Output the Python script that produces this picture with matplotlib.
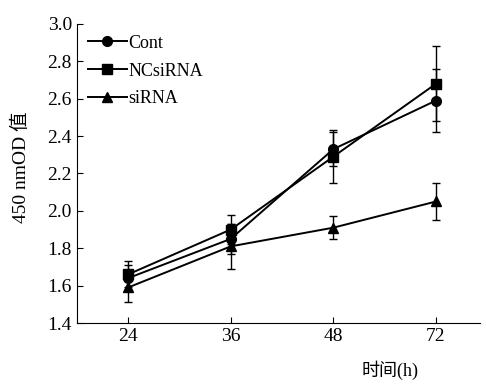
import matplotlib.pyplot as plt
from matplotlib.lines import Line2D
import numpy as np

plt.rcParams['font.family'] = ['Liberation Serif', 'Noto Sans CJK SC']

hours = ["24", "36", "48", "72"]
cont = [1.64, 1.85, 2.33, 2.59]
cont_err = [0.07, 0.08, 0.09, 0.17]
ncsirna = [1.66, 1.90, 2.29, 2.68]
ncsirna_err = [0.07, 0.08, 0.14, 0.20]
sirna = [1.59, 1.81, 1.91, 2.05]
sirna_err = [0.08, 0.12, 0.06, 0.10]

fig = plt.figure(figsize=(4.86, 3.85), dpi=100)
ax = fig.add_axes([0.158, 0.161, 0.83, 0.777])

x = np.arange(len(hours))
style = dict(color="black", lw=1.4, ms=7, capsize=3, elinewidth=1, capthick=1)
ax.errorbar(x, cont, yerr=cont_err, marker="o", **style)
ax.errorbar(x, ncsirna, yerr=ncsirna_err, marker="s", **style)
ax.errorbar(x, sirna, yerr=sirna_err, marker="^", **style)

ax.set_xlim(-0.5, 3.43)
ax.set_ylim(1.4, 3.0)
ax.set_xticks(x)
ax.set_xticklabels(hours)
ax.set_yticks(np.arange(1.4, 3.01, 0.2))
ax.tick_params(direction="in", labelsize=14, length=4)
ax.spines["top"].set_visible(False)
ax.spines["right"].set_visible(False)

ax.set_ylabel("450 nmOD 值", fontsize=14)
ax.yaxis.set_label_coords(-0.115, 0.52)
ax.text(0.777, -0.157, "时间(h)", transform=ax.transAxes, fontsize=13,
        ha="center", va="center")

handles = [Line2D([], [], color="black", lw=1.4, marker=m, ms=7)
           for m in ["o", "s", "^"]]
ax.legend(handles, ["Cont", "NCsiRNA", "siRNA"], loc="upper left",
          frameon=False, fontsize=13, handlelength=2.2, handletextpad=0.05,
          labelspacing=0.6, borderaxespad=0.3, borderpad=0.3)

plt.savefig("out.png", dpi=100)
